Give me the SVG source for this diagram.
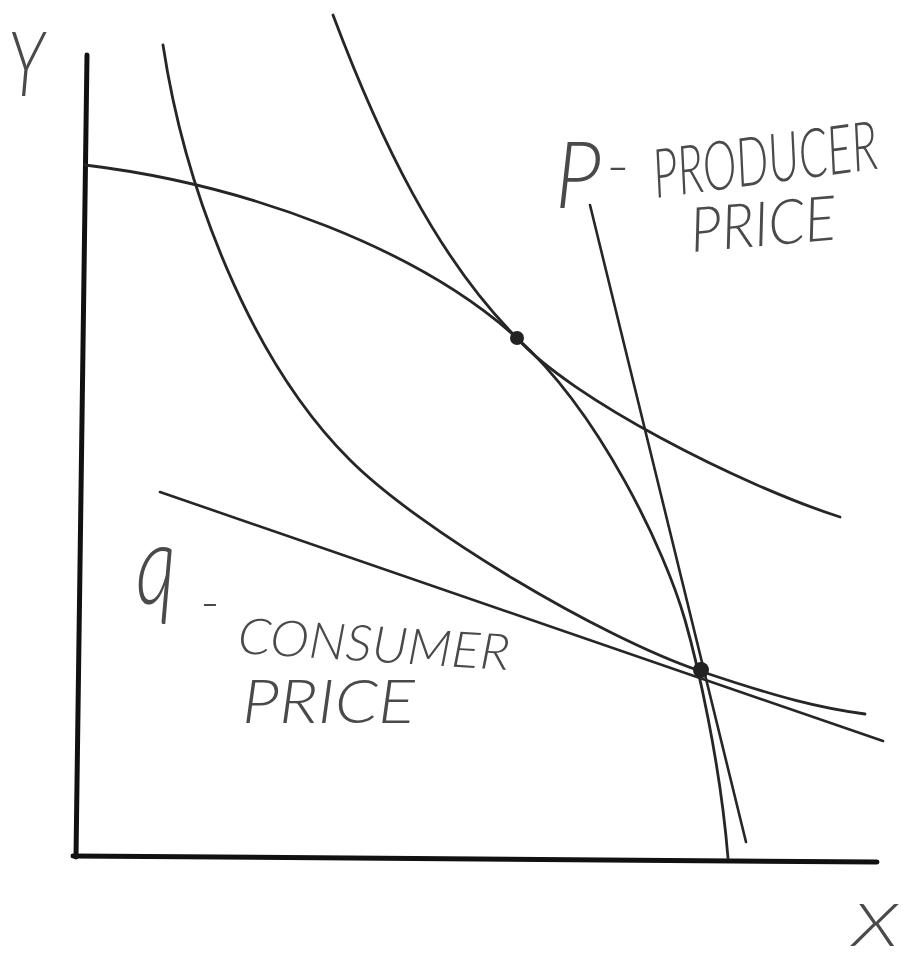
<svg xmlns="http://www.w3.org/2000/svg" width="916" height="960" viewBox="0 0 916 960">
<style>
.ax{stroke:#111;stroke-width:5;fill:none;stroke-linecap:round}
.cv{stroke:#262626;stroke-width:2.8;fill:none;stroke-linecap:round}
.ln{stroke:#262626;stroke-width:2.6;fill:none;stroke-linecap:round}
.hw{font-family:Lato,"DejaVu Sans","Liberation Sans",sans-serif;font-weight:300;font-style:italic;fill:#4a4a4a}
.pt{fill:#222}
</style>
<rect width="916" height="960" fill="#fff"/>
<g id="axes">
<path class="ax" d="M87,55 L76,857"/>
<path class="ax" d="M73,856 L877,862"/>
</g>
<g id="connectors">
<path id="ppf" class="cv" d="M85,165 C250,185 420,250 517,338 C600,413 665,550 685,620 C697,662 720,760 728,858"/>
<path id="ic-upper" class="cv" d="M333,15 C380,140 437,258 517,338 C570,398 740,485 840,517"/>
<path id="ic-lower" class="cv" d="M163,45 C185,190 250,360 350,460 C420,530 600,637 700,671 C780,698 820,708 865,714"/>
<path id="producer-price" class="ln" d="M590,205 L746,842"/>
<path id="consumer-price" class="ln" d="M160,492 L883,741"/>
</g>
<g id="points">
<circle class="pt" cx="517" cy="338" r="7"/>
<circle class="pt" cx="701" cy="670" r="8"/>
</g>
<g id="label-y"><text class="hw" x="8" y="96" font-size="90" textLength="36" lengthAdjust="spacingAndGlyphs">Y</text></g>
<g id="label-x"><text class="hw" x="852" y="946" font-size="60" textLength="46" lengthAdjust="spacingAndGlyphs">X</text></g>
<g id="label-producer">
<text class="hw" x="555" y="208" font-size="92" textLength="46" lengthAdjust="spacingAndGlyphs">P</text>
<text class="hw" x="606" y="186" font-size="60" textLength="24" lengthAdjust="spacingAndGlyphs">-</text>
<text class="hw" transform="translate(656 198) rotate(-7.5) scale(0.64 1)" x="0" y="0" font-size="68" textLength="353" lengthAdjust="spacingAndGlyphs">PRODUCER</text>
<text class="hw" transform="rotate(-5 692 252)" x="692" y="252" font-size="62" textLength="146" lengthAdjust="spacingAndGlyphs">PRICE</text>
</g>
<g id="label-consumer">
<text class="hw" x="136" y="604" font-size="113" textLength="40" lengthAdjust="spacingAndGlyphs">q</text>
<text class="hw" x="200" y="620" font-size="50" textLength="20" lengthAdjust="spacingAndGlyphs">-</text>
<text class="hw" transform="rotate(3.6 237 653)" x="237" y="653" font-size="50" textLength="272" lengthAdjust="spacingAndGlyphs">CONSUMER</text>
<text class="hw" x="242" y="723" font-size="62" textLength="173" lengthAdjust="spacingAndGlyphs">PRICE</text>
</g>
</svg>
